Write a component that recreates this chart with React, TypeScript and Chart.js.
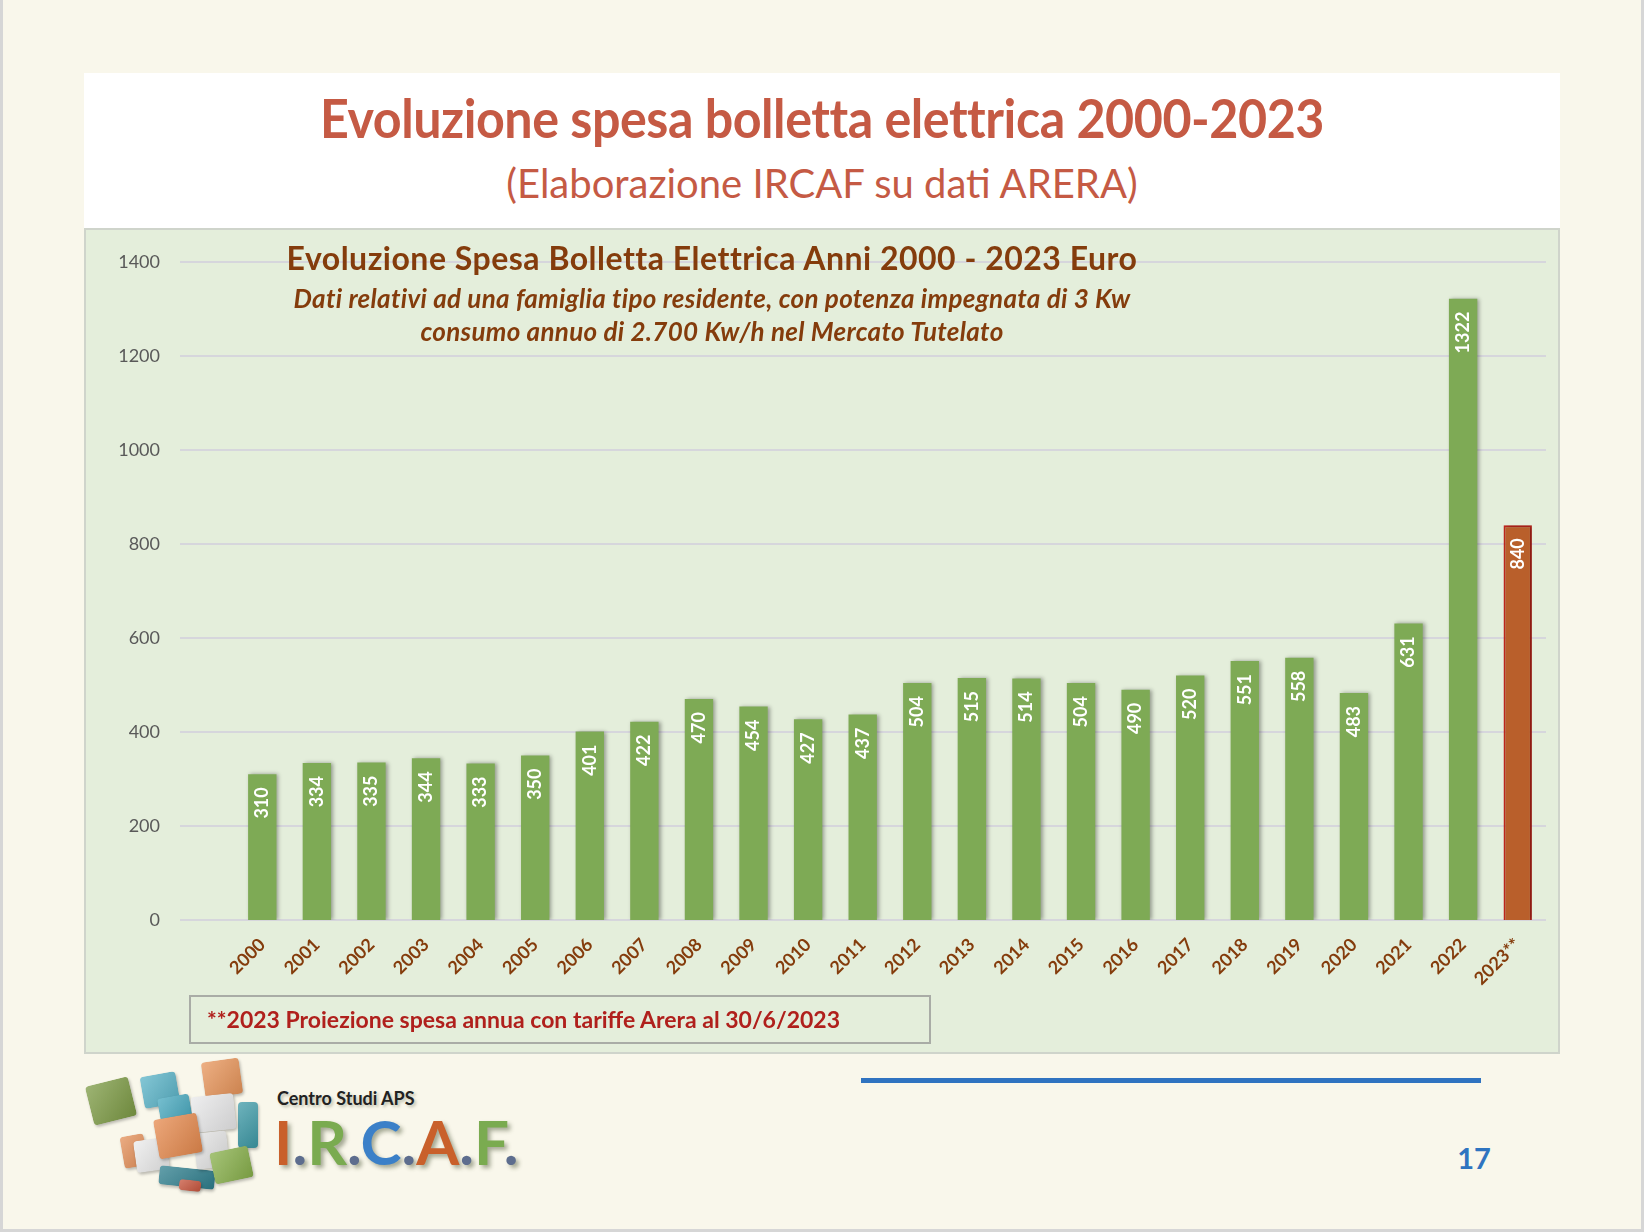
import { useEffect, useRef } from "react";
import { Chart, registerables } from "chart.js";

Chart.register(...registerables);

// --- data ---
const anni = [
  "2000", "2001", "2002", "2003", "2004", "2005", "2006", "2007", "2008", "2009",
  "2010", "2011", "2012", "2013", "2014", "2015", "2016", "2017", "2018", "2019",
  "2020", "2021", "2022", "2023**",
];
const spesaEuro = [
  310, 334, 335, 344, 333, 350, 401, 422, 470, 454,
  427, 437, 504, 515, 514, 504, 490, 520, 551, 558,
  483, 631, 1322, 840,
];
const yMax = 1400;
const yStep = 200;

const GREEN = "#7eaa55";
const ORANGE = "#b95f2b";
const ORANGE_BORDER = "#c0261c";
const BROWN = "#843c0c";
const GRID = "#d6d6dc";
const FONT = "Lato, 'Open Sans', sans-serif";

const isProjection = (i: number) => anni[i].endsWith("**");

// horizontal grid lines start left of the first category, like the slide
const sideGrid = {
  id: "sideGrid",
  beforeDatasetsDraw(chart: any) {
    const { ctx, chartArea, scales } = chart;
    const y = scales.y;
    ctx.save();
    ctx.strokeStyle = GRID;
    ctx.lineWidth = 2;
    y.ticks.forEach((t: any) => {
      const py = Math.round(y.getPixelForValue(t.value));
      ctx.beginPath();
      ctx.moveTo(chartArea.left - 55, py);
      ctx.lineTo(chartArea.right + 1, py);
      ctx.stroke();
    });
    ctx.restore();
  },
};

const barShadow = {
  id: "barShadow",
  beforeDatasetDraw(chart: any) {
    const ctx = chart.ctx;
    ctx.save();
    ctx.shadowColor = "rgba(0,0,0,0.35)";
    ctx.shadowBlur = 4;
    ctx.shadowOffsetX = 2;
    ctx.shadowOffsetY = 0;
  },
  afterDatasetDraw(chart: any) {
    chart.ctx.restore();
  },
};

const valueLabels = {
  id: "valueLabels",
  afterDatasetsDraw(chart: any) {
    const { ctx } = chart;
    const meta = chart.getDatasetMeta(0);
    ctx.save();
    ctx.fillStyle = "#ffffff";
    ctx.font = `bold 18px ${FONT}`;
    ctx.textAlign = "right";
    ctx.textBaseline = "middle";
    meta.data.forEach((bar: any, i: number) => {
      ctx.save();
      ctx.translate(bar.x, bar.y + 13);
      ctx.rotate(-Math.PI / 2);
      ctx.fillText(String(spesaEuro[i]), 0, 0);
      ctx.restore();
    });
    ctx.restore();
  },
};

function SpesaChart() {
  const canvasRef = useRef<HTMLCanvasElement>(null);

  useEffect(() => {
    if (!canvasRef.current) return;
    const chart = new Chart(canvasRef.current, {
      type: "bar",
      data: {
        labels: anni,
        datasets: [
          {
            data: spesaEuro,
            backgroundColor: (c: any) => (isProjection(c.index) ? ORANGE : GREEN),
            borderColor: ORANGE_BORDER,
            borderWidth: (c: any) => (isProjection(c.index) ? 2 : 0),
            categoryPercentage: 1,
            barPercentage: 0.52,
          },
        ],
      },
      options: {
        animation: false,
        responsive: true,
        maintainAspectRatio: false,
        layout: { padding: { top: 34, right: 15, left: 0, bottom: 0 } },
        plugins: {
          legend: { display: false },
          tooltip: { enabled: false },
        },
        scales: {
          x: {
            grid: { display: false, drawTicks: false },
            border: { display: false },
            ticks: {
              color: BROWN,
              font: { family: FONT, size: 18, weight: "bold" },
              minRotation: 45,
              maxRotation: 45,
              autoSkip: false,
              padding: 14,
            },
            afterFit: (s: any) => {
              s.height = 134;
            },
          },
          y: {
            min: 0,
            max: yMax,
            grid: { display: false, drawTicks: false },
            border: { display: false },
            ticks: {
              stepSize: yStep,
              color: "#595959",
              font: { family: FONT, size: 18 },
              padding: 75,
              callback: (v: any) => String(v),
            },
            afterFit: (s: any) => {
              s.width = 151;
              s.paddingTop = 10;
              s.paddingBottom = 10;
            },
          },
        },
      },
      plugins: [sideGrid, barShadow, valueLabels],
    });
    return () => chart.destroy();
  }, []);

  return <canvas ref={canvasRef}></canvas>;
}

const logoTiles = [
  { l: 89, t: 1081, w: 44, h: 40, c: "#7d9b45", r: -14 },
  { l: 142, t: 1074, w: 36, h: 32, c: "#5bb4c8", r: -10 },
  { l: 203, t: 1060, w: 38, h: 36, c: "#e8955a", r: -8 },
  { l: 159, t: 1096, w: 32, h: 27, c: "#48a9bf", r: -10 },
  { l: 238, t: 1102, w: 20, h: 46, c: "#3e9aa7", r: 0 },
  { l: 192, t: 1095, w: 43, h: 36, c: "#e9e9ea", r: -6 },
  { l: 122, t: 1135, w: 24, h: 32, c: "#e5915a", r: -10 },
  { l: 135, t: 1139, w: 33, h: 32, c: "#ececec", r: -8 },
  { l: 159, t: 1168, w: 56, h: 19, c: "#2f7f8e", r: 6 },
  { l: 179, t: 1180, w: 22, h: 11, c: "#c8553d", r: 6 },
  { l: 195, t: 1132, w: 33, h: 36, c: "#e4e4e4", r: -6 },
  { l: 212, t: 1149, w: 39, h: 32, c: "#88b04b", r: -12 },
  { l: 156, t: 1116, w: 44, h: 40, c: "#e68a4e", r: -10 },
];

const logoLetters = [
  { ch: "I", c: "#c9602b" },
  { ch: ".", c: "#5d6d8e" },
  { ch: "R", c: "#7aab50" },
  { ch: ".", c: "#5d6d8e" },
  { ch: "C", c: "#3b80c8" },
  { ch: ".", c: "#5d6d8e" },
  { ch: "A", c: "#c9602b" },
  { ch: ".", c: "#5d6d8e" },
  { ch: "F", c: "#7aab50" },
  { ch: ".", c: "#5d6d8e" },
];

export default function App() {
  const abs = (o: any) => ({ position: "absolute" as const, ...o });
  return (
    <div
      style={{
        position: "relative",
        width: 1644,
        height: 1232,
        background: "#f9f7eb",
        overflow: "hidden",
        fontFamily: FONT,
        boxShadow: "inset 3px 0 0 #d6d6d6, inset -3px 0 0 #d6d6d6, inset 0 -3px 0 #d6d6d6",
      }}
    >
      <style>{`body{margin:0}`}</style>

      {/* header */}
      <div style={abs({ left: 84, top: 73, width: 1476, height: 155, background: "#ffffff" })} />
      <div
        style={abs({
          left: 84, top: 88, width: 1476, textAlign: "center", fontSize: 54, lineHeight: "60px",
          fontWeight: 700, color: "#c55a44", transform: "scaleX(0.93)", letterSpacing: -0.5,
        })}
      >
        Evoluzione spesa bolletta elettrica 2000-2023
      </div>
      <div
        style={abs({
          left: 84, top: 161, width: 1476, textAlign: "center", fontSize: 40, lineHeight: "44px",
          color: "#c55a44",
        })}
      >
        (Elaborazione IRCAF su dati ARERA)
      </div>

      {/* chart panel */}
      <div
        style={abs({
          left: 84, top: 228, width: 1476, height: 826, background: "#e4eedb",
          border: "2px solid #cfd4cb", boxSizing: "border-box",
        })}
      />
      <div style={abs({ left: 84, top: 228, width: 1476, height: 826 })}>
        <SpesaChart />
      </div>

      <div
        style={abs({
          left: 212, top: 243, width: 1000, textAlign: "center", fontSize: 32, lineHeight: "30px",
          fontWeight: 700, color: BROWN, letterSpacing: 0.5, whiteSpace: "nowrap",
        })}
      >
        Evoluzione Spesa Bolletta Elettrica Anni 2000 - 2023 Euro
      </div>
      <div
        style={abs({
          left: 212, top: 283, width: 1000, textAlign: "center", fontSize: 26, lineHeight: "30px",
          fontWeight: 700, fontStyle: "italic", color: BROWN, letterSpacing: 0.3, whiteSpace: "nowrap",
        })}
      >
        Dati relativi ad una famiglia tipo residente, con potenza impegnata di 3 Kw
      </div>
      <div
        style={abs({
          left: 212, top: 316, width: 1000, textAlign: "center", fontSize: 26, lineHeight: "30px",
          fontWeight: 700, fontStyle: "italic", color: BROWN, letterSpacing: 0.3, whiteSpace: "nowrap",
        })}
      >
        consumo annuo di 2.700 Kw/h nel Mercato Tutelato
      </div>

      {/* footnote */}
      <div
        style={abs({
          left: 189, top: 995, width: 742, height: 49, border: "2px solid #a9aca6",
          boxSizing: "border-box",
        })}
      />
      <div
        style={abs({
          left: 207, top: 1006, fontSize: 23, lineHeight: "26px", fontWeight: 700, color: "#b0201c",
          whiteSpace: "nowrap",
        })}
      >
        **2023 Proiezione spesa annua con tariffe Arera al 30/6/2023
      </div>

      {/* footer */}
      {logoTiles.map((t, i) => (
        <div
          key={i}
          style={abs({
            left: t.l, top: t.t, width: t.w, height: t.h, background: t.c, borderRadius: 4,
            transform: `rotate(${t.r}deg)`, boxShadow: "1px 2px 3px rgba(0,0,0,0.25)",
            backgroundImage: "linear-gradient(135deg, rgba(255,255,255,0.25), rgba(0,0,0,0.12))",
          })}
        />
      ))}
      <div
        style={abs({
          left: 277, top: 1089, fontSize: 18, lineHeight: "18px", fontWeight: 700, color: "#222",
          textShadow: "2px 2px 3px rgba(80,90,60,0.35)", whiteSpace: "nowrap",
        })}
      >
        Centro Studi APS
      </div>
      <div
        style={abs({
          left: 274, top: 1110, fontSize: 62, lineHeight: "62px", whiteSpace: "nowrap",
          fontWeight: 700, textShadow: "3px 3px 4px rgba(60,70,40,0.45)",
        })}
      >
        {logoLetters.map((l, i) => (
          <span key={i} style={{ color: l.c }}>{l.ch}</span>
        ))}
      </div>

      <div style={abs({ left: 861, top: 1078, width: 620, height: 5, background: "#2f73c0" })} />
      <div
        style={abs({
          left: 1444, top: 1143, width: 60, textAlign: "center", fontSize: 29, lineHeight: "30px",
          fontWeight: 700, color: "#2e74c0",
        })}
      >
        17
      </div>
    </div>
  );
}
